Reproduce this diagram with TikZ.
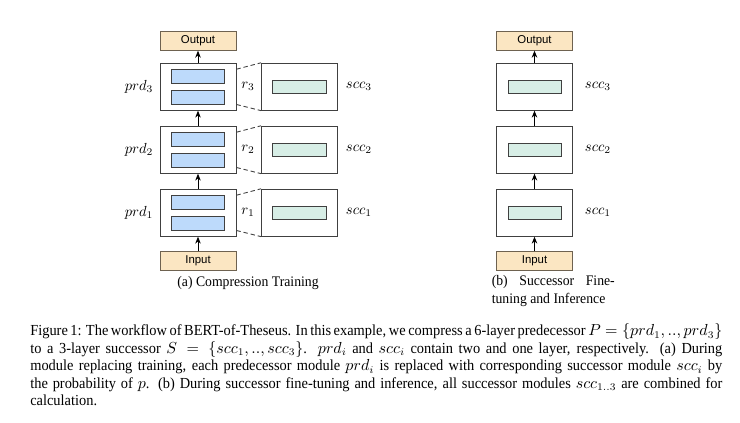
\documentclass[tikz,border=0pt]{standalone}
\usepackage{fontspec}
\setmainfont{Liberation Serif}[FakeStretch=0.94]
\setsansfont{Liberation Sans}
\usetikzlibrary{arrows.meta}
\definecolor{ioFill}{HTML}{FBE6C2}
\definecolor{ioLine}{HTML}{6E6250}
\definecolor{blueFill}{HTML}{BDDAFB}
\definecolor{greenFill}{HTML}{D7EEE6}
\definecolor{boxLine}{HTML}{404040}
\tikzset{
  iobox/.style={draw=ioLine, fill=ioFill, line width=0.6pt, minimum width=76*0.685pt, minimum height=18.5*0.685pt, inner sep=0pt, font=\sffamily\fontsize{7.8}{9}\selectfont},
  modbox/.style={draw=boxLine, line width=0.6pt, fill=white, minimum width=76*0.685pt, minimum height=47*0.685pt, inner sep=0pt},
  bluebox/.style={draw=boxLine, line width=0.6pt, fill=blueFill, minimum width=53*0.685pt, minimum height=13.5*0.685pt, inner sep=0pt},
  greenbox/.style={draw=boxLine, line width=0.6pt, fill=greenFill, minimum width=53.5*0.685pt, minimum height=13.7*0.685pt, inner sep=0pt},
  flow/.style={-{Stealth[length=4.8pt,width=3.8pt]}, line width=0.6pt, black},
  link/.style={dashed, dash pattern=on 3pt off 2pt, line width=0.6pt, boxLine},
  lbl/.style={inner sep=0pt, font=\fontsize{10.3}{12}\selectfont},
  caplbl/.style={inner sep=0pt, font=\fontsize{10.5}{12}\selectfont},
}
\begin{document}
\begin{tikzpicture}[x=0.685pt,y=-0.685pt]
\useasboundingbox (0,0) rectangle (740,422);
% ---------- panel (a) ----------
\node[iobox] (outA) at (198,41) {Output};
\node[iobox] (inA) at (198,261) {Input};
\foreach \i/\y in {1/212.7,2/149.7,3/86.7}{
  \node[modbox] (p\i) at (198,\y) {};
  \node[bluebox] (b\i t) at (197.7,\y-10.3) {};
  \node[bluebox] (b\i b) at (197.7,\y+10.6) {};
  \node[modbox] (s\i) at (299.5,\y) {};
  \node[greenbox] (g\i) at (299.2,\y+0.2) {};
  \node[lbl] (pl\i) at (139,\y) {$prd_{\i}$};
  \node[lbl] (rl\i) at (248,\y) {$r_{\i}$};
  \node[lbl] (sl\i) at (359,\y) {$scc_{\i}$};
  \draw[link] (p\i.east |- b\i t.north) -- (s\i.north west);
  \draw[link] (p\i.east |- b\i b.south) -- (s\i.south west);
}
\draw[flow] (inA) -- (p1);
\draw[flow] (p1) -- (p2);
\draw[flow] (p2) -- (p3);
\draw[flow] (p3) -- (outA);
\node[lbl, font=\fontsize{10}{12}\selectfont] (capA) at (248,283) {(a) Compression Training};
% ---------- panel (b) ----------
\node[iobox] (outB) at (534.5,41) {Output};
\node[iobox] (inB) at (534.5,261) {Input};
\foreach \i/\y in {1/212.7,2/149.7,3/86.7}{
  \node[modbox] (q\i) at (534.5,\y) {};
  \node[greenbox] (h\i) at (534.7,\y+0.3) {};
  \node[lbl] (ql\i) at (598,\y) {$scc_{\i}$};
}
\draw[flow] (inB) -- (q1);
\draw[flow] (q1) -- (q2);
\draw[flow] (q2) -- (q3);
\draw[flow] (q3) -- (outB);
\node[lbl, font=\fontsize{10}{12}\selectfont, anchor=north west, text width=123*0.685pt, align=justify] (capB) at (491.5,275.5) {(b) Successor Fine-tuning and Inference};
% ---------- main caption ----------
\node[caplbl, anchor=north west, text width=692*0.685pt, align=justify] (cap) at (30,323.5) {Figure 1: The workflow of BERT-of-Theseus. In this example, we compress a 6-layer predecessor $P=\{prd_1,..,prd_3\}$\linebreak to a 3-layer successor $S=\{scc_1,..,scc_3\}$. $prd_i$ and $scc_i$ contain two and one layer, respectively. (a) During\linebreak module replacing training, each predecessor module $prd_i$ is replaced with corresponding successor module $scc_i$ by\linebreak the probability of $p$. (b) During successor fine-tuning and inference, all successor modules $scc_{1..3}$ are combined for\linebreak calculation.};
\end{tikzpicture}
\end{document}
